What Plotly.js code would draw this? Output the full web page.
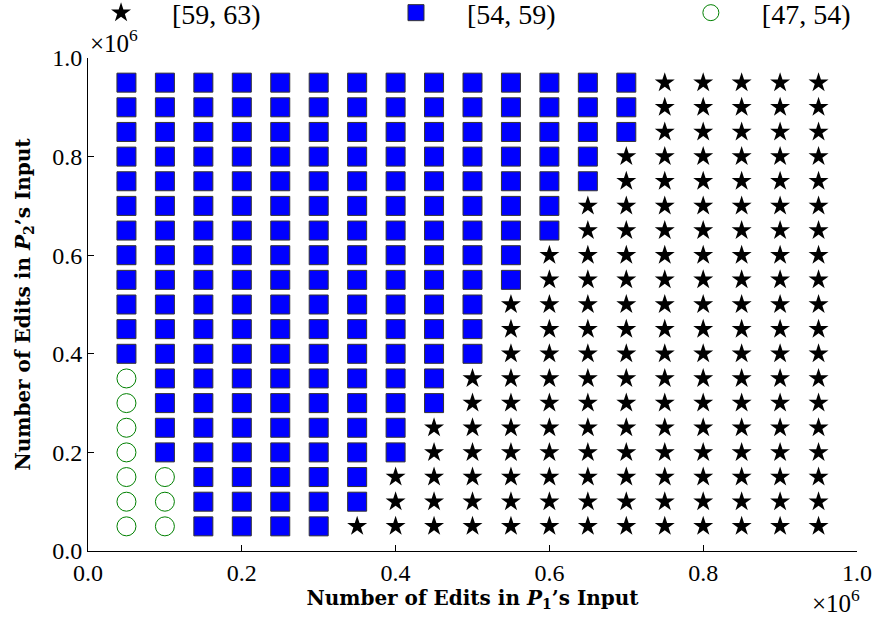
<!DOCTYPE html>
<html>
<head>
<meta charset="utf-8">
<script src="https://cdn.plot.ly/plotly-3.0.1.min.js"></script>
<style>html,body{margin:0;padding:0;background:#fff;}#chart{width:881px;height:617px;}</style>
</head>
<body>
<div id="chart"></div>
<script>
// Grid coordinates (in units of 10^6 edits)
var xValues = [0.05,0.10,0.15,0.20,0.25,0.30,0.35,0.40,0.45,0.50,0.55,0.60,0.65,0.70,0.75,0.80,0.85,0.90,0.95];
var yValues = [0.95,0.90,0.85,0.80,0.75,0.70,0.65,0.60,0.55,0.50,0.45,0.40,0.35,0.30,0.25,0.20,0.15,0.10,0.05];
// Category of each cell, one string per y row (top to bottom), one char per x column
// S = [59, 63), B = [54, 59), C = [47, 54)
var gridRows = [
  "BBBBBBBBBBBBBBSSSSS",
  "BBBBBBBBBBBBBBSSSSS",
  "BBBBBBBBBBBBBBSSSSS",
  "BBBBBBBBBBBBBSSSSSS",
  "BBBBBBBBBBBBBSSSSSS",
  "BBBBBBBBBBBBSSSSSSS",
  "BBBBBBBBBBBBSSSSSSS",
  "BBBBBBBBBBBSSSSSSSS",
  "BBBBBBBBBBBSSSSSSSS",
  "BBBBBBBBBBSSSSSSSSS",
  "BBBBBBBBBBSSSSSSSSS",
  "BBBBBBBBBBSSSSSSSSS",
  "CBBBBBBBBSSSSSSSSSS",
  "CBBBBBBBBSSSSSSSSSS",
  "CBBBBBBBSSSSSSSSSSS",
  "CBBBBBBBSSSSSSSSSSS",
  "CCBBBBBSSSSSSSSSSSS",
  "CCBBBBBSSSSSSSSSSSS",
  "CCBBBBSSSSSSSSSSSSS"
];
var categoryCodes = ["S", "B", "C"];
var categoryLabels = ["[59, 63)", "[54, 59)", "[47, 54)"];
var xTickValues = [0.0, 0.2, 0.4, 0.6, 0.8, 1.0];
var yTickValues = [0.0, 0.2, 0.4, 0.6, 0.8, 1.0];

function cellsFor(code) {
  var xs = [], ys = [];
  for (var r = 0; r < gridRows.length; r++) {
    for (var c = 0; c < gridRows[r].length; c++) {
      if (gridRows[r].charAt(c) === code) { xs.push(xValues[c]); ys.push(yValues[r]); }
    }
  }
  return {x: xs, y: ys};
}

var markerStyles = {
  S: {symbol: "star", size: 15, color: "#000000", line: {width: 0}},
  B: {symbol: "square", size: 19, color: "#0000ff", line: {width: 1, color: "#333333"}},
  C: {symbol: "circle-open", size: 19, color: "#008000", line: {width: 1, color: "#008000"}}
};
var legendIds = ["legend", "legend2", "legend3"];

var traces = categoryCodes.map(function (code, i) {
  var cells = cellsFor(code);
  return {
    type: "scatter", mode: "markers",
    x: cells.x, y: cells.y,
    name: categoryLabels[i],
    legend: legendIds[i],
    marker: markerStyles[code],
    cliponaxis: false,
    hoverinfo: "x+y+name"
  };
});

var serif = "'Liberation Serif', 'Times New Roman', Times, serif";
var axisCommon = {
  range: [0, 1],
  showgrid: false, zeroline: false,
  showline: true, linecolor: "#000", linewidth: 1,
  ticks: "inside", ticklen: 6, tickwidth: 1, tickcolor: "#000",
  tickformat: ".1f",
  tickfont: {family: serif, size: 24, color: "#000"},
  mirror: false, fixedrange: true
};
function legendAt(xc) {
  return {
    orientation: "h", xref: "container", yref: "container",
    x: xc, xanchor: "left", y: 0.979, yanchor: "middle",
    font: {family: serif, size: 28, color: "#000"},
    itemwidth: 92, bgcolor: "rgba(0,0,0,0)", borderwidth: 0
  };
}
var titleFont = {family: "'DejaVu Serif', serif", size: 20, color: "#000", weight: "bold"};

var layout = {
  width: 881, height: 617,
  margin: {l: 88, r: 24, t: 58, b: 66},
  paper_bgcolor: "#fff", plot_bgcolor: "#fff",
  font: {family: serif, color: "#000"},
  showlegend: true,
  legend: legendAt(0.0795),
  legend2: legendAt(0.4143),
  legend3: legendAt(0.749),
  xaxis: Object.assign({}, axisCommon, {
    tickvals: xTickValues,
    title: {text: "Number of Edits in <i>P</i><sub>1</sub>’s Input", standoff: 6, font: titleFont}
  }),
  yaxis: Object.assign({}, axisCommon, {
    tickvals: yTickValues,
    title: {text: "Number of Edits in <i>P</i><sub>2</sub>’s Input", standoff: 16, font: titleFont}
  }),
  annotations: [
    {text: "×10<sup>6</sup>", xref: "paper", yref: "paper", x: 0.0, y: 1.034,
     xanchor: "left", yanchor: "middle", showarrow: false,
     font: {family: serif, size: 25, color: "#000"}},
    {text: "×10<sup>6</sup>", xref: "paper", yref: "paper", x: 1.006, y: -0.101,
     xanchor: "right", yanchor: "middle", showarrow: false,
     font: {family: serif, size: 25, color: "#000"}}
  ]
};

Plotly.newPlot("chart", traces, layout, {displayModeBar: false, staticPlot: true});
</script>
</body>
</html>
